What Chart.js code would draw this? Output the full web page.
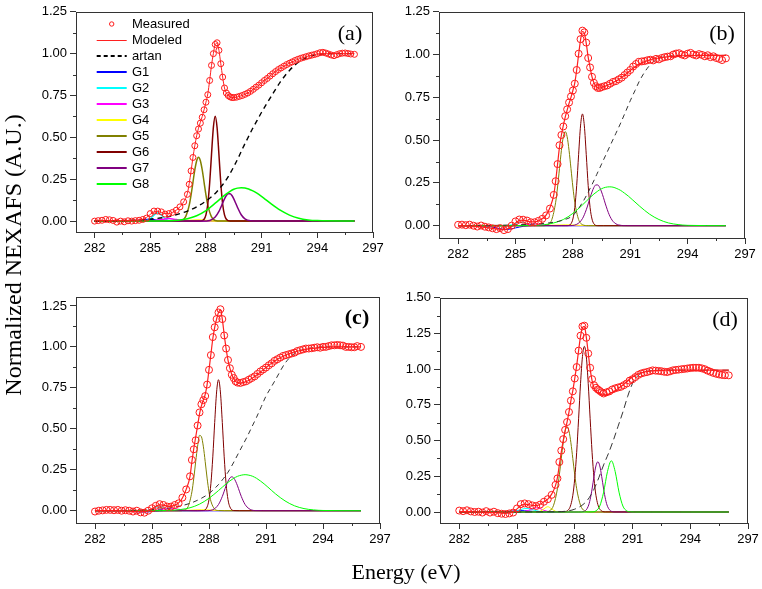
<!DOCTYPE html>
<html>
<head>
<meta charset="utf-8">
<script src="https://cdn.jsdelivr.net/npm/chart.js@4.4.1/dist/chart.umd.min.js"></script>
<style>
  html, body { margin: 0; padding: 0; background: #fff; }
  body { width: 762px; height: 589px; position: relative; overflow: hidden; }
  canvas { position: absolute; }
  .ytitle { position: absolute; left: -147px; top: 242px; width: 320px; height: 26px; line-height: 26px;
            text-align: center; font-family: "Liberation Serif", "DejaVu Serif", serif; font-size: 24px;
            transform: rotate(-90deg); white-space: nowrap; color: #000; }
  .xtitle { position: absolute; left: 306px; top: 560px; width: 200px; height: 24px; line-height: 24px;
            text-align: center; font-family: "Liberation Serif", "DejaVu Serif", serif; font-size: 22px; color: #000; }
</style>
</head>
<body>
<canvas id="cA"></canvas>
<canvas id="cB"></canvas>
<canvas id="cC"></canvas>
<canvas id="cD"></canvas>
<div class="ytitle">Normalized NEXAFS (A.U.)</div>
<div class="xtitle">Energy (eV)</div>
<script>
// ---------- tick labels ----------
const xTicks = [282, 285, 288, 291, 294, 297];
const xMinor = [283.5, 286.5, 289.5, 292.5, 295.5];
const yTicks125 = [0, 0.25, 0.5, 0.75, 1.0, 1.25];
const yMinor125 = [0.125, 0.375, 0.625, 0.875, 1.125];
const yTicks150 = [0, 0.25, 0.5, 0.75, 1.0, 1.25, 1.5];
const yMinor150 = [0.125, 0.375, 0.625, 0.875, 1.125, 1.375];
const seriesNames = ["Measured", "Modeled", "artan", "G1", "G2", "G3", "G4", "G5", "G6", "G7", "G8"];

// ---------- energy grid of measured / modeled ----------
const E = [282.0,282.2,282.4,282.6,282.8,283.0,283.2,283.4,283.6,283.8,284.0,284.2,284.4,284.6,284.8,285.0,285.2,285.4,285.6,285.8,286.0,286.2,286.4,286.6,286.8,287.0,
287.1,287.2,287.3,287.4,287.5,287.6,287.7,287.8,287.9,288.0,288.1,288.2,288.3,288.4,288.5,288.6,288.7,288.8,288.9,289.0,289.1,289.2,289.3,289.4,289.5,
289.65,289.8,289.95,290.1,290.25,290.4,290.55,290.7,290.85,291.0,291.15,291.3,291.45,291.6,291.75,291.9,292.05,292.2,292.35,292.5,292.65,292.8,292.95,293.1,293.25,293.4,293.55,293.7,293.85,294.0,294.15,294.3,294.45,294.6,294.75,294.9,295.05,295.2,295.35,295.5,295.65,295.8,296.0];

// ---------- panel (a) ----------
const measA = [0.0,0.003,0.005,0.01,0.008,0.004,-0.006,0.0,-0.004,0.002,0.0,0.003,0.005,0.01,0.018,0.045,0.06,0.06,0.055,0.042,0.045,0.052,0.065,0.085,0.115,0.16,
0.22,0.30,0.38,0.45,0.51,0.55,0.585,0.62,0.665,0.71,0.755,0.84,0.93,1.0,1.055,1.065,1.02,0.94,0.86,0.795,0.765,0.75,0.742,0.738,0.738,
0.74,0.745,0.75,0.757,0.765,0.775,0.787,0.80,0.812,0.826,0.84,0.852,0.866,0.88,0.893,0.905,0.915,0.925,0.935,0.943,0.951,0.959,0.966,0.972,0.977,0.982,0.987,0.991,0.995,1.0,1.006,1.008,1.004,0.998,0.992,0.988,0.994,1.0,1.003,1.004,1.001,0.998,0.996];
const modelA = [0.002,0.002,0.003,0.003,0.003,0.003,0.003,0.003,0.003,0.003,0.004,0.005,0.007,0.012,0.022,0.04,0.055,0.058,0.052,0.045,0.045,0.052,0.065,0.085,0.115,0.165,
0.225,0.3,0.38,0.45,0.51,0.555,0.59,0.625,0.665,0.71,0.76,0.84,0.93,1.0,1.055,1.062,1.02,0.94,0.86,0.795,0.765,0.75,0.742,0.738,0.738,
0.74,0.745,0.75,0.757,0.765,0.775,0.787,0.80,0.812,0.826,0.84,0.852,0.866,0.88,0.893,0.905,0.915,0.925,0.935,0.943,0.951,0.959,0.966,0.972,0.977,0.982,0.987,0.991,0.995,0.998,1.0,1.0,1.0,1.0,1.0,1.0,1.0,1.0,1.0,1.0,1.0,1.0,1.0];

// arctan step energy grid
const atX = [282,283,284,285,286,287,287.5,288,288.5,288.75,289,289.25,289.5,289.75,290,290.25,290.5,290.75,291,291.25,291.5,292,292.5,293,293.5,294,295,296];
const atanA = [0,0.002,0.005,0.012,0.027,0.06,0.085,0.12,0.165,0.197,0.232,0.275,0.325,0.38,0.44,0.495,0.55,0.6,0.65,0.697,0.742,0.83,0.9,0.95,0.98,0.995,1.0,1.0];

// Gaussian energy grids
const g14X = [282,283.5,284.0,284.3,284.6,284.8,285.0,285.2,285.4,285.6,285.8,286.0,286.2,286.4,286.6,286.8,287.0,287.3,287.6,288.0,288.5,289.0,296];
const g5X = [282,286.4,286.7,286.9,287.1,287.2,287.3,287.4,287.5,287.6,287.7,287.8,287.9,288.0,288.1,288.3,288.5,288.8,296];
const g6X = [282,287.4,287.7,287.9,288.0,288.1,288.2,288.3,288.4,288.5,288.6,288.7,288.8,288.9,289.0,289.1,289.3,289.6,296];
const g7X = [282,287.8,288.2,288.5,288.7,288.8,288.9,289.0,289.1,289.2,289.3,289.4,289.5,289.6,289.7,289.9,290.1,290.4,290.8,296];
const g8X = [282,284.5,285.5,286.0,286.5,287.0,287.5,288.0,288.5,288.9,289.1,289.3,289.5,289.7,289.9,290.1,290.3,290.5,290.7,290.9,291.1,291.5,292.0,292.5,293.0,293.5,294.0,296];

const g1A = [0,0,0.001,0.003,0.0075,0.0097,0.0097,0.0075,0.0046,0.002,0.001,0,0,0,0,0,0,0,0,0,0,0,0];
const g2A = [0,0,0,0,0.0003,0.003,0.014,0.036,0.05,0.036,0.014,0.003,0.0003,0,0,0,0,0,0,0,0,0,0];
const g3A = [0,0,0,0,0,0,0,0.002,0.005,0.009,0.013,0.015,0.013,0.009,0.005,0.002,0.0006,0,0,0,0,0,0];
const g4A = [0,0,0,0,0,0,0,0,0,0,0,0,0,0,0.001,0.002,0.003,0.005,0.006,0.0044,0.0012,0.0001,0];
const g5A = [0,0,0.004,0.025,0.095,0.157,0.232,0.306,0.361,0.382,0.361,0.306,0.232,0.157,0.095,0.025,0.004,0,0];
const g6A = [0,0,0,0.011,0.037,0.102,0.226,0.398,0.559,0.626,0.559,0.398,0.226,0.102,0.037,0.011,0,0,0];
const g7A = [0,0,0.004,0.024,0.058,0.082,0.108,0.133,0.153,0.164,0.164,0.153,0.133,0.108,0.082,0.038,0.014,0.002,0,0];
const g8A = [0,0,0.0004,0.0015,0.005,0.014,0.032,0.063,0.107,0.145,0.163,0.178,0.19,0.197,0.2,0.198,0.192,0.182,0.17,0.155,0.139,0.104,0.065,0.036,0.017,0.007,0.003,0];

// ---------- panel (b) ----------
const measB = [0.005,0.006,0.003,0.006,0.0,-0.005,0.001,-0.006,-0.01,-0.015,-0.02,-0.014,-0.026,-0.02,0.0,0.025,0.036,0.035,0.03,0.02,0.02,0.028,0.04,0.06,0.1,0.18,
0.26,0.36,0.47,0.53,0.58,0.64,0.68,0.72,0.755,0.79,0.83,0.91,1.005,1.09,1.14,1.13,1.07,0.98,0.925,0.87,0.835,0.815,0.805,0.805,0.81,
0.815,0.82,0.83,0.84,0.845,0.855,0.865,0.88,0.895,0.91,0.93,0.945,0.958,0.96,0.962,0.967,0.97,0.966,0.975,0.972,0.98,0.985,0.988,0.99,1.0,1.006,1.008,1.0,0.995,1.005,1.01,1.0,0.995,1.003,0.998,0.99,0.996,0.985,0.99,0.98,0.975,0.968,0.978];
const modelB = [0.0,0.0,-0.001,-0.002,-0.003,-0.005,-0.007,-0.01,-0.013,-0.016,-0.019,-0.021,-0.022,-0.018,-0.005,0.015,0.03,0.033,0.028,0.022,0.022,0.028,0.04,0.062,0.105,0.18,
0.26,0.36,0.46,0.53,0.585,0.635,0.675,0.715,0.75,0.79,0.835,0.91,1.0,1.085,1.135,1.125,1.065,0.985,0.925,0.87,0.835,0.815,0.805,0.804,0.808,
0.814,0.82,0.828,0.836,0.845,0.855,0.866,0.879,0.893,0.907,0.92,0.932,0.943,0.952,0.959,0.965,0.97,0.974,0.977,0.98,0.983,0.985,0.987,0.989,0.99,0.991,0.992,0.993,0.993,0.994,0.994,0.994,0.995,0.995,0.995,0.995,0.995,0.995,0.995,0.995,0.995,0.995,0.995];
const atanB = [0,0,0.002,0.005,0.01,0.02,0.033,0.06,0.135,0.185,0.24,0.3,0.36,0.42,0.48,0.54,0.6,0.665,0.73,0.79,0.85,0.935,0.978,0.99,0.995,0.995,0.995,0.995];
const g1B = [0,-0.003,-0.013,-0.02,-0.0216,-0.018,-0.013,-0.008,-0.004,-0.002,-0.0007,0,0,0,0,0,0,0,0,0,0,0,0];
const g2B = [0,0,0,0,0.001,0.005,0.012,0.019,0.019,0.012,0.005,0.001,0,0,0,0,0,0,0,0,0,0,0];
const g3B = [0,0,0,0,0,0,0,0.001,0.003,0.006,0.009,0.01,0.009,0.006,0.003,0.001,0,0,0,0,0,0,0];
const g4B = [0,0,0,0,0,0,0,0,0,0,0,0,0,0,0.001,0.002,0.003,0.004,0.005,0.004,0.001,0,0];
const g5B = [0,0,0.006,0.036,0.137,0.226,0.334,0.44,0.52,0.55,0.52,0.44,0.334,0.226,0.137,0.036,0.006,0,0];
const g6B = [0,0,0,0.011,0.039,0.106,0.235,0.415,0.583,0.653,0.583,0.415,0.235,0.106,0.039,0.011,0,0,0];
const g7B = [0,0.0003,0.008,0.041,0.093,0.127,0.164,0.197,0.224,0.238,0.238,0.224,0.197,0.164,0.127,0.064,0.025,0.004,0,0];
const g8B = [0,0,0.0005,0.0017,0.0056,0.016,0.036,0.072,0.121,0.165,0.185,0.202,0.216,0.224,0.227,0.225,0.217,0.206,0.19,0.173,0.153,0.113,0.068,0.036,0.016,0.0065,0.002,0];

// ---------- panel (c) ----------
const measC = [-0.005,0.0,0.002,0.005,0.005,0.003,0.005,0.0,0.003,0.0,-0.005,0.0,-0.01,-0.012,0.0,0.015,0.03,0.04,0.035,0.025,0.025,0.035,0.045,0.08,0.13,0.21,
0.31,0.375,0.43,0.52,0.6,0.65,0.675,0.7,0.77,0.86,0.95,1.06,1.12,1.17,1.21,1.23,1.17,1.07,0.99,0.92,0.87,0.83,0.81,0.79,0.782,
0.78,0.785,0.79,0.8,0.81,0.82,0.835,0.85,0.862,0.874,0.888,0.9,0.915,0.925,0.935,0.945,0.95,0.955,0.96,0.965,0.975,0.98,0.985,0.99,0.99,0.992,0.995,0.998,0.995,1.0,1.0,1.005,1.01,1.01,1.012,1.01,1.008,1.0,1.0,0.998,0.998,1.005,1.0];
const modelC = [0.0,0.0,0.0,0.001,0.001,0.001,0.0,-0.001,-0.002,-0.003,-0.005,-0.006,-0.007,-0.006,0.0,0.012,0.027,0.036,0.034,0.028,0.027,0.034,0.048,0.078,0.13,0.21,
0.3,0.38,0.45,0.52,0.59,0.64,0.675,0.71,0.77,0.86,0.955,1.05,1.12,1.17,1.21,1.225,1.17,1.075,0.99,0.92,0.87,0.832,0.806,0.79,0.782,
0.779,0.782,0.788,0.797,0.807,0.819,0.832,0.846,0.86,0.874,0.888,0.901,0.913,0.924,0.934,0.943,0.951,0.958,0.964,0.969,0.974,0.978,0.982,0.985,0.988,0.99,0.992,0.994,0.996,0.997,0.998,0.999,1.0,1.0,1.0,1.0,1.0,1.0,1.0,1.0,1.0,1.0,1.0];
const atanC = [0,0.001,0.003,0.007,0.018,0.045,0.07,0.105,0.16,0.195,0.235,0.285,0.34,0.395,0.45,0.51,0.57,0.635,0.7,0.75,0.8,0.9,0.96,0.985,0.995,1.0,1.0,1.0];
const g1C = [0,-0.001,-0.005,-0.0074,-0.0078,-0.0067,-0.005,-0.003,-0.0016,-0.0007,-0.0003,0,0,0,0,0,0,0,0,0,0,0,0];
const g2C = [0,0,0,0,0.0007,0.0034,0.01,0.02,0.025,0.02,0.01,0.0034,0.0007,0,0,0,0,0,0,0,0,0,0];
const g3C = [0,0,0,0,0,0,0,0.002,0.005,0.009,0.013,0.015,0.013,0.009,0.005,0.002,0.0006,0,0,0,0,0,0];
const g4C = [0,0,0,0,0,0,0,0,0,0,0,0,0,0,0.001,0.002,0.003,0.005,0.006,0.0044,0.0012,0.0001,0];
const g5C = [0,0,0.003,0.025,0.115,0.199,0.3,0.394,0.46,0.452,0.394,0.3,0.199,0.115,0.058,0.01,0.001,0,0];
const g6C = [0,0,0.001,0.023,0.068,0.165,0.329,0.539,0.725,0.80,0.725,0.539,0.329,0.165,0.068,0.023,0.001,0,0];
const g7C = [0,0,0.006,0.038,0.087,0.119,0.152,0.18,0.2,0.207,0.2,0.18,0.152,0.119,0.087,0.038,0.013,0.001,0,0];
const g8C = [0,0,0.0007,0.0024,0.0072,0.018,0.04,0.076,0.123,0.164,0.182,0.198,0.21,0.217,0.22,0.217,0.21,0.198,0.182,0.164,0.144,0.103,0.06,0.03,0.013,0.005,0.0015,0];

// ---------- panel (d) ----------
const measD = [0.01,0.006,0.012,0.004,0.0,0.002,-0.004,0.006,-0.004,0.002,-0.008,-0.012,-0.014,-0.01,-0.004,0.025,0.055,0.06,0.055,0.046,0.042,0.052,0.072,0.09,0.12,0.19,
0.235,0.35,0.43,0.51,0.575,0.63,0.7,0.78,0.845,0.935,1.015,1.13,1.235,1.3,1.305,1.22,1.11,1.01,0.93,0.888,0.87,0.858,0.848,0.838,0.83,
0.838,0.845,0.858,0.866,0.872,0.877,0.888,0.9,0.92,0.93,0.945,0.96,0.97,0.976,0.98,0.986,0.992,0.99,0.988,0.986,0.982,0.98,0.985,0.992,0.995,0.997,1.0,1.002,1.005,1.008,1.01,1.01,1.01,1.006,1.0,0.99,0.982,0.974,0.968,0.963,0.96,0.958,0.957];
const modelD = [0.002,0.002,0.002,0.002,0.001,0.0,-0.001,-0.002,-0.003,-0.004,-0.006,-0.008,-0.009,-0.007,0.0,0.022,0.045,0.055,0.052,0.046,0.044,0.054,0.072,0.09,0.125,0.185,
0.24,0.33,0.42,0.5,0.57,0.63,0.7,0.78,0.85,0.935,1.025,1.13,1.23,1.29,1.3,1.225,1.115,1.0,0.92,0.87,0.845,0.835,0.828,0.822,0.82,
0.822,0.828,0.838,0.85,0.864,0.879,0.895,0.912,0.93,0.945,0.958,0.968,0.975,0.98,0.984,0.987,0.989,0.99,0.991,0.992,0.992,0.993,0.993,0.993,0.993,0.993,0.993,0.993,0.993,0.993,0.993,0.993,0.993,0.993,0.993,0.993,0.993,0.993,0.993,0.993,0.993,0.993,0.993];
const atanD = [0,0,0,0,0.001,0.002,0.005,0.02,0.06,0.1,0.16,0.24,0.33,0.41,0.5,0.6,0.7,0.81,0.9,0.95,0.975,0.99,0.993,0.993,0.993,0.993,0.993,0.993];
const g1D = [0,0,0.0006,0.002,0.005,0.0073,0.0092,0.01,0.0092,0.0073,0.005,0.0028,0.0014,0.0006,0.0002,0,0,0,0,0,0,0,0];
const g2D = [0,0,0,0,0.001,0.0034,0.009,0.017,0.024,0.024,0.017,0.009,0.0034,0.001,0,0,0,0,0,0,0,0,0];
const g3D = [0,0,0,0,0,0,0,0.001,0.004,0.012,0.024,0.03,0.024,0.012,0.004,0.001,0,0,0,0,0,0,0];
const g4D = [0,0,0,0,0,0,0,0,0,0,0,0.0004,0.005,0.022,0.037,0.022,0.005,0.0001,0,0,0,0,0];
const g5D = [0,0,0.009,0.047,0.163,0.26,0.374,0.485,0.567,0.597,0.567,0.485,0.374,0.26,0.163,0.047,0.009,0,0];
const g6D = [0,0.001,0.02,0.117,0.236,0.418,0.653,0.899,1.088,1.16,1.088,0.899,0.653,0.418,0.236,0.117,0.02,0.001,0];
const g7D = [0,0,0,0.005,0.04,0.088,0.161,0.249,0.323,0.352,0.323,0.249,0.161,0.088,0.04,0.005,0,0,0,0];
const g8D = [0,0,0,0,0,0,0,0,0,0.001,0.008,0.042,0.139,0.283,0.359,0.283,0.139,0.042,0.008,0.001,0,0,0,0,0,0,0,0];

// ---------- styling ----------
const gColors = ['#0000ff', '#00ffff', '#ff00ff', '#ffff00', '#808000', '#800000', '#800080', '#00ff00'];

function pts(xs, ys) { return xs.map((x, i) => ({ x: x, y: ys[i] })); }

const deco = {
  id: 'deco',
  afterDraw(chart, args, o) {
    const ctx = chart.ctx, ca = chart.chartArea, sx = chart.scales.x, sy = chart.scales.y;
    ctx.save();
    ctx.strokeStyle = '#333';
    ctx.lineWidth = 1;
    ctx.setLineDash([]);
    const L = Math.round(ca.left), T = Math.round(ca.top), R = Math.round(ca.right), B = Math.round(ca.bottom);
    ctx.strokeRect(L + 0.5, T + 0.5, R - L - 1, B - T);
    ctx.beginPath();
    o.xMinor.forEach(v => { const x = Math.round(sx.getPixelForValue(v)) + 0.5; ctx.moveTo(x, B); ctx.lineTo(x, B + 3); });
    o.yMinor.forEach(v => { const y = Math.round(sy.getPixelForValue(v)) + 0.5; ctx.moveTo(L, y); ctx.lineTo(L - 3, y); });
    ctx.stroke();
    ctx.fillStyle = '#000';
    ctx.font = (o.bold ? 'bold ' : '') + '22px "Liberation Serif", serif';
    ctx.textAlign = 'center';
    ctx.textBaseline = 'middle';
    ctx.fillText(o.label, ca.right - 23, ca.top + 22);
    if (o.legend) {
      ctx.font = '13px "Liberation Sans", Arial, sans-serif';
      ctx.textAlign = 'left';
      chart.data.datasets.forEach((ds, i) => {
        const y = Math.round(ca.top + 11.7 + 16 * i);
        ctx.save();
        if (i === 0) {
          ctx.strokeStyle = ds.borderColor; ctx.lineWidth = 1;
          ctx.beginPath(); ctx.arc(ca.left + 35.7, y, 2.2, 0, Math.PI * 2); ctx.stroke();
        } else {
          ctx.strokeStyle = ds.borderColor;
          ctx.lineWidth = i === 1 ? 1 : 2;
          ctx.setLineDash(i === 2 ? [4, 3] : []);
          const yy = (i === 1) ? y + 0.5 : y;
          ctx.beginPath(); ctx.moveTo(ca.left + 20.7, yy); ctx.lineTo(ca.left + 50.7, yy); ctx.stroke();
        }
        ctx.restore();
        ctx.fillStyle = '#000';
        ctx.fillText(ds.label, ca.left + 56, y + 0.5);
      });
    }
    ctx.restore();
  }
};

function makePanel(id, rect, yMin, yMax, yT, yM, meas, model, aX, atan, gs, opt) {
  const [l, t, r, b] = rect;
  const padL = 60, padT = 10, padR = 15, padB = 40;
  const cv = document.getElementById(id);
  const W = (r - l) + padL + padR, H = (b - t) + padT + padB;
  cv.width = W; cv.height = H;
  cv.style.left = (l - padL) + 'px'; cv.style.top = (t - padT) + 'px';
  cv.style.width = W + 'px'; cv.style.height = H + 'px';
  const gXs = [g14X, g14X, g14X, g14X, g5X, g6X, g7X, g8X];
  const lw = opt.thick ? 1.5 : 1;
  const datasets = [
    { label: seriesNames[0], data: pts(E, meas), showLine: false, pointRadius: opt.r, pointStyle: 'circle',
      borderColor: '#ff1a1a', backgroundColor: 'rgba(0,0,0,0)', pointBorderWidth: 1, borderWidth: 1, order: 0 },
    { label: seriesNames[1], data: pts(E, model), borderColor: '#ff2020', borderWidth: opt.thick ? 1 : 1.2,
      pointRadius: 0, cubicInterpolationMode: 'monotone', order: 1 },
    { label: seriesNames[2], data: pts(aX, atan), borderColor: opt.thick ? '#000' : '#333', borderWidth: opt.thick ? 1.4 : 1,
      borderDash: opt.dash, pointRadius: 0, cubicInterpolationMode: 'monotone', order: 2 }
  ];
  gs.forEach((g, i) => {
    datasets.push({ label: seriesNames[3 + i], data: pts(gXs[i], g), borderColor: gColors[i], borderWidth: lw,
      pointRadius: 0, cubicInterpolationMode: 'monotone', order: 10 - i });
  });
  const tickFont = { family: '"Liberation Sans", Arial, sans-serif', size: 13 };
  new Chart(cv, {
    type: 'line',
    data: { datasets: datasets },
    plugins: [deco],
    options: {
      responsive: false, animation: false, devicePixelRatio: 1,
      layout: { padding: { left: 0, top: padT, right: padR, bottom: 0 } },
      plugins: { legend: { display: false }, tooltip: { enabled: false },
        deco: { xMinor: xMinor, yMinor: yM, label: opt.label, legend: opt.legend, bold: opt.bold } },
      scales: {
        x: { type: 'linear', min: 281, max: 297,
          afterBuildTicks: (s) => { s.ticks = xTicks.map(v => ({ value: v })); },
          afterFit: (s) => { s.height = padB; },
          ticks: { autoSkip: false, maxRotation: 0, color: '#000', font: tickFont, padding: 3, callback: (v) => String(v) },
          grid: { display: true, drawOnChartArea: false, drawTicks: true, tickLength: 6, color: '#333' },
          border: { display: false } },
        y: { type: 'linear', min: yMin, max: yMax,
          afterBuildTicks: (s) => { s.ticks = yT.map(v => ({ value: v })); },
          afterFit: (s) => { s.width = padL; },
          ticks: { autoSkip: false, color: '#000', font: tickFont, padding: 3, callback: (v) => Number(v).toFixed(2) },
          grid: { display: true, drawOnChartArea: false, drawTicks: true, tickLength: 6, color: '#333' },
          border: { display: false } }
      }
    }
  });
}

makePanel('cA', [76, 11, 373, 232], -0.065, 1.25, yTicks125, yMinor125, measA, modelA, atX, atanA,
  [g1A, g2A, g3A, g4A, g5A, g6A, g7A, g8A], { thick: true, r: 3, dash: [5, 4], label: '(a)', legend: true, bold: false });
makePanel('cB', [439, 11, 745, 238], -0.072, 1.25, yTicks125, yMinor125, measB, modelB, atX, atanB,
  [g1B, g2B, g3B, g4B, g5B, g6B, g7B, g8B], { thick: false, r: 3.5, dash: [5, 4], label: '(b)', legend: false, bold: false });
makePanel('cC', [76, 296, 380, 523], -0.075, 1.306, yTicks125, yMinor125, measC, modelC, atX, atanC,
  [g1C, g2C, g3C, g4C, g5C, g6C, g7C, g8C], { thick: false, r: 3.5, dash: [5, 4], label: '(c)', legend: false, bold: true });
makePanel('cD', [440, 297, 748, 523], -0.077, 1.5, yTicks150, yMinor150, measD, modelD, atX, atanD,
  [g1D, g2D, g3D, g4D, g5D, g6D, g7D, g8D], { thick: false, r: 3.5, dash: [7, 4], label: '(d)', legend: false, bold: false });
</script>
</body>
</html>
